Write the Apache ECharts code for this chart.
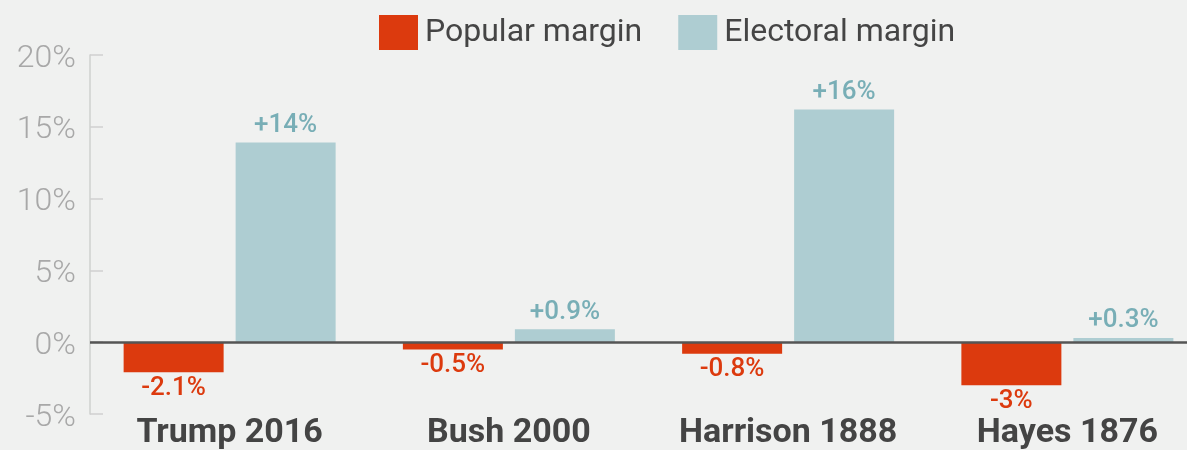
<!DOCTYPE html>
<html><head><meta charset="utf-8">
<script src="https://cdn.jsdelivr.net/npm/echarts@6/dist/echarts.min.js"></script>
<style>html,body{margin:0;padding:0;background:#f0f1f0}#c{width:1187px;height:450px}</style>
</head><body><div id="c"></div>
<script>
const categories = ['Trump 2016', 'Bush 2000', 'Harrison 1888', 'Hayes 1876'];
const popularMargin = [-2.1, -0.5, -0.8, -3];
const electoralMargin = [13.9, 0.9, 16.2, 0.3];
const popularLabels = ['-2.1%', '-0.5%', '-0.8%', '-3%'];
const electoralLabels = ['+14%', '+0.9%', '+16%', '+0.3%'];

const chart = echarts.init(document.getElementById('c'));
chart.setOption({
  backgroundColor: '#f0f1f0',
  animation: false,
  legend: {
    top: 10, left: 374, itemWidth: 39, itemHeight: 35, itemGap: 36,
    icon: 'rect',
    textStyle: { fontFamily: 'Roboto', fontSize: 32, color: '#454545', padding: [0,0,0,2] },
    data: ['Popular margin', 'Electoral margin']
  },
  grid: { left: 90, right: -20, top: 55, bottom: 36, outerBoundsMode: 'none', containLabel: false },
  xAxis: {
    type: 'category', data: categories,
    axisLine: { show: false, onZero: false }, axisTick: { show: false },
    axisLabel: { interval: 0, hideOverlap: false, margin: 2, fontFamily: 'Roboto', fontWeight: 'bold', fontSize: 34, color: '#444' }
  },
  yAxis: {
    type: 'value', min: -5, max: 20, interval: 5,
    axisLine: { show: true, lineStyle: { color: '#cfd0cf', width: 1.5 } },
    axisTick: { show: true, inside: true, length: 13, lineStyle: { color: '#cfd0cf', width: 1.5 } },
    splitLine: { show: false },
    axisLabel: {
      formatter: v => '{a|' + v + '%}', margin: 14,
      rich: { a: { padding: [7, 0, 0, 0], fontFamily: 'Roboto', fontWeight: 300, fontSize: 32, color: '#a8a8a8' } }
    }
  },
  series: [
    {
      name: 'Popular margin', type: 'bar', data: popularMargin,
      barWidth: 100, barGap: '12%',
      itemStyle: { color: '#dc3a0e' },
      label: { show: true, position: 'bottom', distance: 3, fontFamily: 'Roboto', fontWeight: 500, fontSize: 26, color: '#dc3a0e',
        formatter: p => popularLabels[p.dataIndex] },
      markLine: { silent: true, symbol: 'none', label: { show: false },
        lineStyle: { color: '#555', width: 2.5, type: 'solid' }, data: [{ yAxis: 0 }] }
    },
    {
      name: 'Electoral margin', type: 'bar', data: electoralMargin,
      barWidth: 100, barGap: '12%',
      itemStyle: { color: '#aecdd2' },
      label: { show: true, position: 'top', distance: 4, fontFamily: 'Roboto', fontWeight: 500, fontSize: 26, color: '#78aeb6',
        formatter: p => electoralLabels[p.dataIndex] }
    }
  ]
});
</script></body></html>
